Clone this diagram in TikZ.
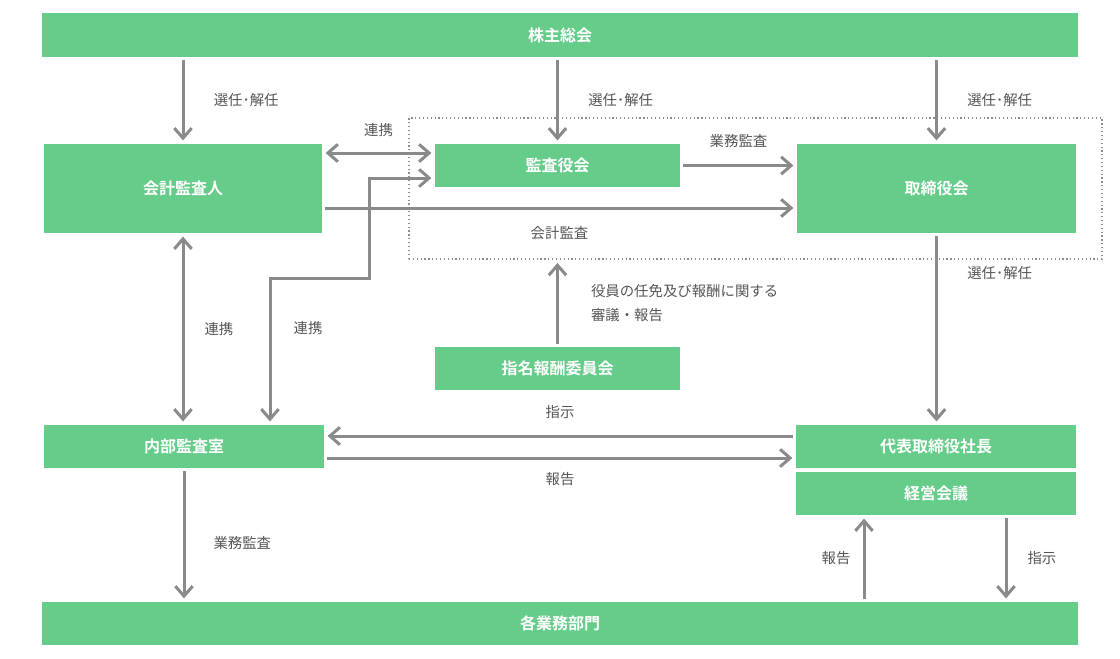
\documentclass[tikz,border=0pt]{standalone}
\usepackage{fontspec}
\setmainfont{Noto Sans CJK JP}[BoldFont={Noto Sans CJK JP Bold}]
\usetikzlibrary{arrows.meta,calc}
\definecolor{boxgreen}{HTML}{66CC8A}
\definecolor{arrgray}{HTML}{8A8A8A}
\definecolor{txtgray}{HTML}{555555}
\tikzset{>={Straight Barb[length=7.5pt,width=13pt]}}

\begin{document}
\begin{tikzpicture}[x=0.75pt,y=-0.75pt,
    box/.style={fill=boxgreen,text=white,inner sep=0,font=\fontsize{12}{14}\selectfont\bfseries},
    lbl/.style={text=txtgray,inner sep=0,font=\fontsize{10.8}{18}\selectfont},
    arr/.style={->,draw=arrgray,line width=2.25pt,shorten <=2pt,shorten >=2.5pt},
    biarr/.style={arr,<->,shorten <=2.5pt}]
\useasboundingbox (0,0) rectangle (1120,658);
    % committee frame
    \node[draw=gray!90,dotted,line width=0.9pt,minimum width=519.75pt,minimum height=105.75pt] (frame) at (755.5,188.5) {};
    % boxes
    \node[box,minimum width=777pt,minimum height=33pt] (kabu) at (560,35) {株主総会};
    \node[box,minimum width=208.5pt,minimum height=66.75pt] (kaikei) at (183,188.5) {会計監査人};
    \node[box,minimum width=183.75pt,minimum height=32.25pt] (kansa) at (557.5,165.5) {監査役会};
    \node[box,minimum width=209.25pt,minimum height=66.75pt] (tori) at (936.5,188.5) {取締役会};
    \node[box,minimum width=183.75pt,minimum height=32.25pt] (shimei) at (557.5,368.5) {指名報酬委員会};
    \node[box,minimum width=210pt,minimum height=32.25pt] (naibu) at (184,446.5) {内部監査室};
    \node[box,minimum width=210pt,minimum height=32.25pt] (daihyo) at (936,446.5) {代表取締役社長};
    \node[box,minimum width=210pt,minimum height=32.25pt] (keiei) at (936,493.5) {経営会議};
    \node[box,minimum width=777pt,minimum height=32.25pt] (kaku) at (560,623.5) {各業務部門};
    % connector ends
    \coordinate (kup) at ($(kansa.west)+(0,-12.5)$);
    \coordinate (kdn) at ($(kansa.west)+(0,12.5)$);
    \coordinate (kaiout) at ($(kaikei.east)+(0,19.5)$);
    \coordinate (torin) at ($(tori.west)+(0,19.5)$);
    \coordinate (dout) at ($(daihyo.west)+(0,-10.5)$);
    \coordinate (nout) at ($(naibu.east)+(0,11.5)$);
    \coordinate (kleft) at ($(keiei.south)+(-72,0)$);
    \coordinate (kright) at ($(keiei.south)+(70,0)$);
    \coordinate (bend) at (369,278);
    % appointment
    \draw[arr] (kabu.south -| kaikei.north) -- (kaikei.north) node[lbl,midway,right=22pt] (sen1) {選任･解任};
    \draw[arr] (kabu.south -| kansa.north) -- (kansa.north) node[lbl,midway,right=22pt] (sen2) {選任･解任};
    \draw[arr] (kabu.south -| tori.north) -- (tori.north) node[lbl,midway,right=22pt] (sen3) {選任･解任};
    \draw[arr] (tori.south) -- (tori.south |- daihyo.north) node[lbl,pos=0.21,right=22pt] (sen4) {選任･解任};
    % audit links
    \draw[biarr] (kup -| kaikei.east) -- (kup) node[lbl,midway,above=11pt] (ren1) {連携};
    \draw[arr] (kansa.east) -- (kansa.east -| tori.west) node[lbl,midway,above=12pt] (gyo1) {業務監査};
    \draw[arr] (kaiout) -- (torin) node[lbl,midway,below=13pt] (kai1) {会計監査};
    \draw[biarr] ($(naibu.north)+(86,0)$) |- (bend) |- (kdn);
    \node[lbl] (ren3) at (308,328) {連携};
    \draw[biarr] (kaikei.south) -- (kaikei.south |- naibu.north) node[lbl,midway,right=15pt] (ren2) {連携};
    \draw[arr] (shimei.north) -- (shimei.north |- frame.south) node[lbl,midway,right=24pt,align=left] (shin) {役員の任免及び報酬に関する\\審議・報告};
    % instruction and report
    \draw[arr] (dout) -- (dout -| naibu.east) node[lbl,midway,above=12pt] (shi1) {指示};
    \draw[arr] (nout) -- (nout -| daihyo.west) node[lbl,midway,below=10pt] (hou1) {報告};
    \draw[arr] (naibu.south) -- (naibu.south |- kaku.north) node[lbl,pos=0.56,right=21pt] (gyo2) {業務監査};
    \draw[arr] (kleft |- kaku.north) -- (kleft) node[lbl,midway,left=9pt] (hou2) {報告};
    \draw[arr] (kright) -- (kright |- kaku.north) node[lbl,midway,right=15pt] (shi2) {指示};
\end{tikzpicture}
\end{document}
